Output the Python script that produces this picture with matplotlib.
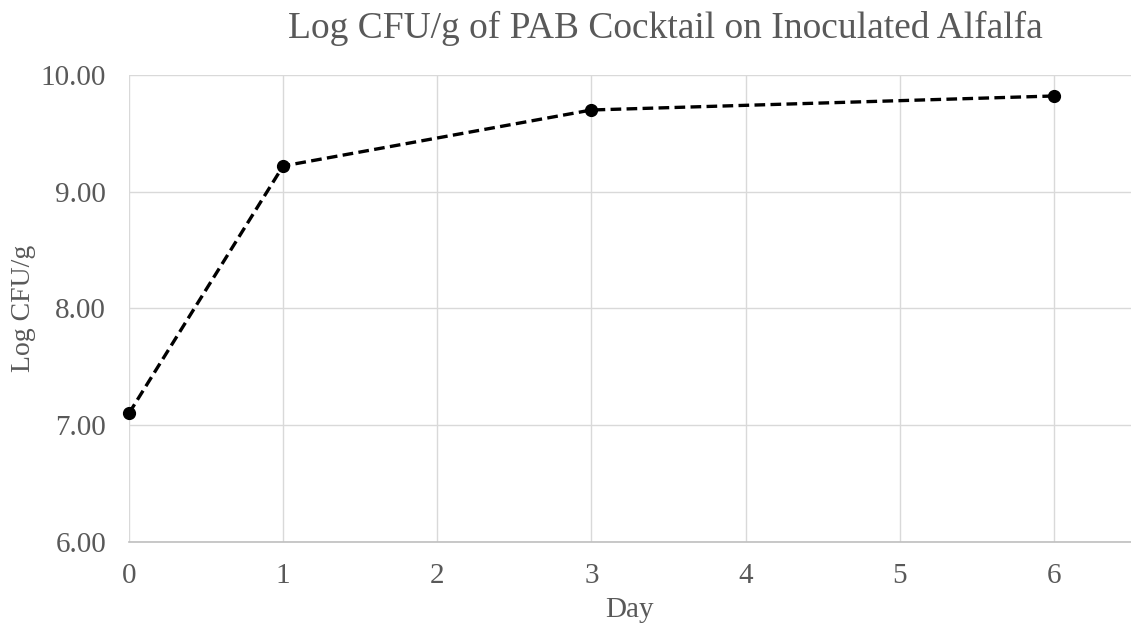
import matplotlib
matplotlib.use("Agg")
import matplotlib.pyplot as plt

days = [0, 1, 3, 6]
log_cfu = [7.10, 9.22, 9.70, 9.82]
x_ticks = [0, 1, 2, 3, 4, 5, 6]
y_ticks = [6.00, 7.00, 8.00, 9.00, 10.00]

plt.rcParams['font.family'] = ['Liberation Serif', 'DejaVu Serif']
txt = '#595959'

fig = plt.figure(figsize=(11.31, 6.28), dpi=100)
ax = fig.add_axes([0.114, 0.1374, 0.886, 0.7432])

ax.plot(days, log_cfu, linestyle=(0, (3.2, 1.6)), color='black', linewidth=2.4,
        marker='o', markersize=8.5, zorder=3, clip_on=False)

ax.set_xlim(0, 6.5)
ax.set_ylim(6, 10)
ax.set_xticks(x_ticks)
ax.set_yticks(y_ticks)
ax.set_yticklabels([f"{v:.2f}" for v in y_ticks])
ax.grid(True, color='#d9d9d9', linewidth=1)
ax.set_axisbelow(True)
for s in ['top', 'right', 'left']:
    ax.spines[s].set_visible(False)
ax.spines['bottom'].set_color('#bfbfbf')
ax.spines['bottom'].set_linewidth(1.2)
ax.tick_params(axis='both', length=0, labelsize=21, colors=txt)
ax.tick_params(axis='x', pad=15)
ax.tick_params(axis='y', pad=16.5)

ax.set_xlabel('Day', fontsize=21, color=txt, labelpad=6)
ax.set_ylabel('Log CFU/g', fontsize=20, color=txt, labelpad=3)
fig.text(0.588, 1 - 38 / 628, 'Log CFU/g of PAB Cocktail on Inoculated Alfalfa',
         ha='center', va='baseline', fontsize=27, color=txt)

fig.savefig('out.png', dpi=100)
